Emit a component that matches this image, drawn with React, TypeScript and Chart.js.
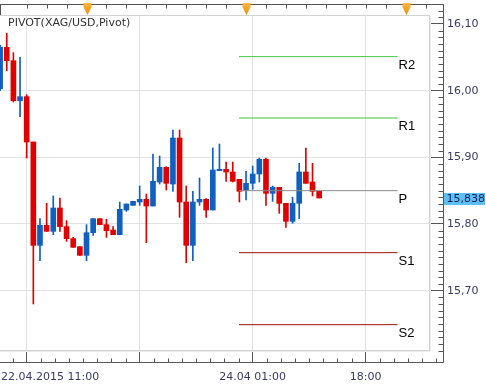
import { useEffect, useRef } from 'react';
import { Chart, registerables } from 'chart.js';

Chart.register(...registerables);

// ---- data (hourly candles, XAG/USD) ----
const opens = [16.003, 16.065, 16.045, 15.985, 15.991, 15.923, 15.768, 15.798, 15.789, 15.824, 15.796, 15.778, 15.766, 15.753, 15.787, 15.808, 15.799, 15.791, 15.784, 15.821, 15.828, 15.833, 15.837, 15.827, 15.863, 15.885, 15.860, 15.929, 15.833, 15.768, 15.833, 15.837, 15.821, 15.880, 15.882, 15.878, 15.867, 15.851, 15.861, 15.875, 15.897, 15.846, 15.855, 15.831, 15.804, 15.831, 15.878, 15.863, 15.849];
const highs = [16.068, 16.086, 16.057, 16.050, 15.994, 15.923, 15.808, 15.831, 15.842, 15.839, 15.805, 15.780, 15.766, 15.799, 15.808, 15.808, 15.807, 15.796, 15.833, 15.830, 15.834, 15.857, 15.845, 15.905, 15.902, 15.886, 15.941, 15.941, 15.857, 15.849, 15.869, 15.838, 15.914, 15.920, 15.893, 15.893, 15.867, 15.879, 15.887, 15.899, 15.899, 15.857, 15.855, 15.831, 15.840, 15.891, 15.914, 15.891, 15.849];
const lows = [16.000, 16.030, 15.983, 15.961, 15.899, 15.680, 15.745, 15.789, 15.784, 15.789, 15.774, 15.765, 15.753, 15.745, 15.783, 15.799, 15.780, 15.784, 15.784, 15.819, 15.828, 15.828, 15.772, 15.827, 15.860, 15.851, 15.849, 15.810, 15.742, 15.745, 15.828, 15.810, 15.821, 15.880, 15.864, 15.863, 15.833, 15.836, 15.852, 15.863, 15.828, 15.834, 15.816, 15.795, 15.801, 15.808, 15.861, 15.842, 15.839];
const closes = [16.065, 16.045, 15.985, 15.991, 15.923, 15.768, 15.798, 15.789, 15.824, 15.796, 15.778, 15.765, 15.753, 15.787, 15.808, 15.799, 15.790, 15.784, 15.822, 15.830, 15.834, 15.837, 15.827, 15.864, 15.885, 15.861, 15.929, 15.833, 15.768, 15.833, 15.837, 15.821, 15.881, 15.882, 15.878, 15.864, 15.849, 15.861, 15.875, 15.897, 15.846, 15.855, 15.831, 15.804, 15.831, 15.878, 15.861, 15.849, 15.839];

const xTickIdx = [4, 21, 38, 55];
const xTickLabels = ['22.04.2015 11:00', '', '24.04 01:00', '18:00'];
const dayMarks = [13, 37, 61];
const yMajor = [15.7, 15.8, 15.9, 16.0, 16.1];

const pivotNames = ['R2', 'R1', 'P', 'S1', 'S2'];
const pivotValues = [16.051, 15.959, 15.850, 15.757, 15.649];
const pivotColors = ['#3cc43c', '#3cc43c', '#8a8a8a', '#a01010', '#a01010'];
const pivotFrom = 35.94;
const pivotTo = 59.8;

const lastPrice = 15.838;
const title = 'PIVOT(XAG/USD,Pivot)';

const UP = '#1060c0';
const DOWN = '#e00000';
const AXIS_TEXT = '#3a3a66';
const FONT = '"DejaVu Sans", Verdana, sans-serif';

const fmt = (v: number, d = 2) => v.toFixed(d).replace('.', ',');

const decor = {
  id: 'decor',
  beforeDraw(chart: any) {
    const { ctx, width, height } = chart;
    ctx.save();
    ctx.fillStyle = '#ffffff';
    ctx.fillRect(0, 0, width, height);
    ctx.restore();
  },
  afterDraw(chart: any) {
    const { ctx, chartArea: a, scales } = chart;
    const x = scales.x;
    const y = scales.y;
    const axisR = Math.round(a.right + 14) + 0.5;
    const axisB = Math.round(a.bottom + 12) + 0.5;
    const topY = 4.5;
    ctx.save();

    // inner panel top edge + shadow
    ctx.strokeStyle = '#d2d2d2';
    ctx.lineWidth = 1;
    ctx.beginPath();
    ctx.moveTo(a.left, Math.round(a.top) + 0.5);
    ctx.lineTo(a.right, Math.round(a.top) + 0.5);
    ctx.stroke();
    ctx.strokeStyle = '#ececec';
    ctx.beginPath();
    ctx.moveTo(Math.round(a.right) + 1.5, a.top + 1);
    ctx.lineTo(Math.round(a.right) + 1.5, a.bottom + 1);
    ctx.moveTo(a.left, Math.round(a.bottom) + 1.5);
    ctx.lineTo(a.right + 1, Math.round(a.bottom) + 1.5);
    ctx.stroke();

    // outer frame
    ctx.strokeStyle = '#555555';
    ctx.beginPath();
    ctx.moveTo(0, topY);
    ctx.lineTo(axisR, topY);
    ctx.moveTo(axisR, topY);
    ctx.lineTo(axisR, axisB);
    ctx.moveTo(0, axisB);
    ctx.lineTo(axisR, axisB);
    ctx.moveTo(0.5, topY);
    ctx.lineTo(0.5, a.top);
    ctx.stroke();

    // top ruler ticks
    ctx.beginPath();
    for (let i = 4; ; i += 3) {
      const px = Math.round(x.getPixelForValue(i)) + 0.5;
      if (px > axisR) break;
      ctx.moveTo(px, topY);
      ctx.lineTo(px, topY + 4);
    }
    ctx.stroke();

    // day markers
    dayMarks.forEach((d) => {
      const px = Math.round(x.getPixelForValue(d)) + 0.5;
      const g = ctx.createLinearGradient(0, 3, 0, 15);
      g.addColorStop(0, '#ffb640');
      g.addColorStop(1, '#f08c00');
      ctx.fillStyle = g;
      ctx.beginPath();
      ctx.moveTo(px - 4, 3);
      ctx.lineTo(px + 4, 3);
      ctx.lineTo(px + 4, 7);
      ctx.lineTo(px, 15);
      ctx.lineTo(px - 4, 7);
      ctx.closePath();
      ctx.fill();
    });

    // minor y ticks
    ctx.strokeStyle = '#555555';
    ctx.beginPath();
    for (let k = 1555; k <= 1615; k++) {
      if (k % 10 === 0) continue;
      const py = Math.round(y.getPixelForValue(k / 100)) + 0.5;
      if (py < topY || py > axisB) continue;
      ctx.moveTo(axisR - 5, py);
      ctx.lineTo(axisR, py);
    }
    ctx.stroke();

    // minor x ticks
    ctx.beginPath();
    for (let j = -2; j <= 32; j++) {
      if (j % 8 === 0) continue;
      const v = xTickIdx[0] + (j * (xTickIdx[1] - xTickIdx[0])) / 8;
      const px = Math.round(x.getPixelForValue(v)) + 0.5;
      if (px < 0 || px > axisR) continue;
      ctx.moveTo(px, axisB - 4);
      ctx.lineTo(px, axisB);
    }
    ctx.stroke();

    // title
    ctx.fillStyle = '#333333';
    ctx.font = '11px ' + FONT;
    ctx.textBaseline = 'middle';
    ctx.textAlign = 'left';
    ctx.fillText(title, 8, 23.5);

    // x labels
    ctx.fillStyle = AXIS_TEXT;
    xTickIdx.forEach((v, i) => {
      const lab = xTickLabels[i];
      if (!lab) return;
      const px = x.getPixelForValue(v);
      const w = ctx.measureText(lab).width;
      const left = Math.max(1, px - w / 2);
      ctx.fillText(lab, left, 377.5);
    });

    // pivot labels
    ctx.fillStyle = '#000000';
    ctx.font = '13px "Liberation Sans", Arial, sans-serif';
    ctx.textBaseline = 'alphabetic';
    pivotNames.forEach((n, i) => {
      const px = x.getPixelForValue(pivotTo) + 1;
      const py = y.getPixelForValue(pivotValues[i]) + 12;
      ctx.fillText(n, px, py);
    });

    // last price box
    const lp = y.getPixelForValue(lastPrice);
    ctx.fillStyle = '#5cbff5';
    ctx.fillRect(axisR + 0.5, Math.round(lp) - 6, 41, 12);
    ctx.fillStyle = '#1a1a50';
    ctx.font = '11px ' + FONT;
    ctx.textBaseline = 'middle';
    ctx.fillText(fmt(lastPrice, 3), axisR + 3, lp + 0.5);

    ctx.restore();
  },
};

export default function App() {
  const ref = useRef<HTMLCanvasElement | null>(null);

  useEffect(() => {
    if (!ref.current) return;
    const idx = opens.map((_, i) => i);
    const colorOf = (i: number) => (closes[i] >= opens[i] ? UP : DOWN);

    const pivotSets = pivotNames.map((n, i) => ({
      type: 'line' as const,
      label: n,
      data: [
        { x: pivotFrom, y: pivotValues[i] },
        { x: pivotTo, y: pivotValues[i] },
      ],
      borderColor: pivotColors[i],
      borderWidth: 1,
      pointRadius: 0,
      fill: false,
    }));

    const chart = new Chart(ref.current, {
      type: 'bar',
      data: {
        datasets: [
          ...pivotSets,
          {
            type: 'bar',
            label: 'body',
            data: idx.map((i) => ({ x: i, y: [opens[i], closes[i]] })),
            backgroundColor: idx.map(colorOf),
            barThickness: 5,
            minBarLength: 1,
            grouped: false,
            borderWidth: 0,
          },
          {
            type: 'bar',
            label: 'wick',
            data: idx.map((i) => ({ x: i, y: [lows[i], highs[i]] })),
            backgroundColor: idx.map(colorOf),
            barThickness: 1,
            minBarLength: 1,
            grouped: false,
            borderWidth: 0,
          },
        ] as any,
      },
      options: {
        responsive: false,
        animation: false,
        events: [],
        layout: { padding: { top: 15, left: 0, right: 0, bottom: 0 } },
        plugins: { legend: { display: false }, tooltip: { enabled: false } },
        scales: {
          x: {
            type: 'linear',
            offset: false,
            min: -0.015,
            max: 64.525,
            afterBuildTicks: (s: any) => {
              s.ticks = xTickIdx.map((v) => ({ value: v }));
            },
            afterFit: (s: any) => {
              s.height = 39;
            },
            grid: { offset: false, color: '#e2e2e2', tickColor: '#555555', tickLength: 12, lineWidth: 1 },
            border: { display: true, color: '#d2d2d2' },
            ticks: { display: false },
          },
          y: {
            type: 'linear',
            position: 'right',
            min: 15.611,
            max: 16.1135,
            afterBuildTicks: (s: any) => {
              s.ticks = yMajor.map((v) => ({ value: v }));
            },
            afterFit: (s: any) => {
              s.width = 57;
            },
            grid: {
              color: (c: any) => (c.tick && c.tick.value > 16.05 ? 'rgba(0,0,0,0)' : '#e2e2e2'),
              tickColor: '#555555',
              tickLength: 14,
              lineWidth: 1,
            },
            border: { display: true, color: '#d2d2d2' },
            ticks: {
              padding: 4,
              color: AXIS_TEXT,
              font: { family: FONT, size: 11 },
              callback: (v: any) => fmt(Number(v)),
            },
          },
        },
      } as any,
      plugins: [decor],
    });
    return () => chart.destroy();
  }, []);

  return (
    <div style={{ position: 'fixed', left: 0, top: 0, width: 486, height: 389, background: '#fff' }}>
      <canvas ref={ref} width={486} height={389} style={{ display: 'block', width: 486, height: 389 }} />
    </div>
  );
}
